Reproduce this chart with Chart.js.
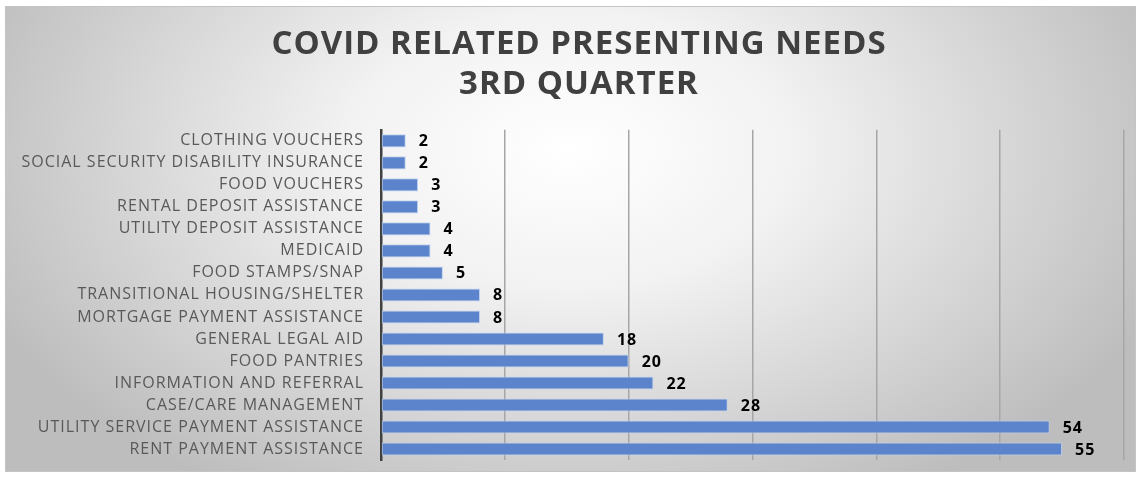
<!DOCTYPE html>
<html lang="en">
<head>
    <meta charset="UTF-8">
    <title>COVID Related Presenting Needs - 3rd Quarter</title>
    <style>
        html, body {
            margin: 0;
            padding: 0;
            background-color: #fff;
        }
        .chart-box {
            position: relative;
            width: 1141px;
            height: 478px;
        }
    </style>
    <script src="https://cdn.jsdelivr.net/npm/chart.js"></script>
</head>
<body>
    <div class="chart-box">
        <canvas id="needsChart" width="1141" height="478"></canvas>
    </div>

    <script>
        // data
        const categories = [
            'CLOTHING VOUCHERS',
            'SOCIAL SECURITY DISABILITY INSURANCE',
            'FOOD VOUCHERS',
            'RENTAL DEPOSIT ASSISTANCE',
            'UTILITY DEPOSIT ASSISTANCE',
            'MEDICAID',
            'FOOD STAMPS/SNAP',
            'TRANSITIONAL HOUSING/SHELTER',
            'MORTGAGE PAYMENT ASSISTANCE',
            'GENERAL LEGAL AID',
            'FOOD PANTRIES',
            'INFORMATION AND REFERRAL',
            'CASE/CARE MANAGEMENT',
            'UTILITY SERVICE PAYMENT ASSISTANCE',
            'RENT PAYMENT ASSISTANCE'
        ];
        const counts = [2, 2, 3, 3, 4, 4, 5, 8, 8, 18, 20, 22, 28, 54, 55];
        const titleLines = ['COVID RELATED PRESENTING NEEDS', '3RD QUARTER'];

        // background + frame
        const backgroundPlugin = {
            id: 'panelBackground',
            beforeDraw(chart) {
                const ctx = chart.ctx;
                const x = 5, y = 6, w = 1131, h = 466;
                ctx.save();
                ctx.fillStyle = '#ffffff';
                ctx.fillRect(0, 0, chart.width, chart.height);
                ctx.beginPath();
                ctx.rect(x, y, w, h);
                ctx.clip();
                ctx.translate(570, 150);
                ctx.scale(1, 0.62);
                const g = ctx.createRadialGradient(0, 0, 0, 0, 0, 640);
                g.addColorStop(0, '#ffffff');
                g.addColorStop(0.35, '#f2f2f2');
                g.addColorStop(1, '#bdbdbd');
                ctx.fillStyle = g;
                ctx.fillRect(-700, -700, 1400, 1400);
                ctx.restore();
                ctx.save();
                ctx.strokeStyle = '#c4c4c4';
                ctx.lineWidth = 1;
                ctx.strokeRect(x + 0.5, y + 0.5, w - 1, h - 1);
                ctx.restore();
                // the original text is set a little wider
                ctx.letterSpacing = '1px';
            }
        };

        // value labels right of each bar
        const valueLabels = {
            id: 'valueLabels',
            afterDatasetsDraw(chart) {
                const ctx = chart.ctx;
                const meta = chart.getDatasetMeta(0);
                ctx.save();
                ctx.letterSpacing = '1px';
                ctx.font = 'bold 16px "Open Sans"';
                ctx.fillStyle = '#000';
                ctx.textBaseline = 'middle';
                ctx.textAlign = 'left';
                meta.data.forEach((bar, i) => {
                    ctx.fillText(counts[i], bar.x + 13, bar.y + 1);
                });
                ctx.restore();
            }
        };

        new Chart(document.getElementById('needsChart'), {
            type: 'bar',
            data: {
                labels: categories,
                datasets: [{
                    data: counts,
                    backgroundColor: '#5b84cc',
                    borderColor: 'rgba(190,208,238,0.9)',
                    borderWidth: 1,
                    borderSkipped: false,
                    barPercentage: 0.66,
                    categoryPercentage: 0.9
                }]
            },
            options: {
                indexAxis: 'y',
                responsive: false,
                animation: false,
                layout: {
                    // left padding only to centre the title like the original
                    padding: { left: 34, right: 17, top: 0, bottom: 18 }
                },
                plugins: {
                    legend: { display: false },
                    tooltip: { enabled: false },
                    title: {
                        display: true,
                        text: titleLines,
                        color: '#404040',
                        font: { family: '"Open Sans"', size: 33, weight: 'bold', lineHeight: 1.21 },
                        padding: { top: 25, bottom: 25 }
                    }
                },
                scales: {
                    x: {
                        min: 0,
                        max: 60,
                        ticks: { display: false, stepSize: 10 },
                        grid: {
                            color: (c) => c.index === 0 ? 'rgba(0,0,0,0)' : '#a6a6a6',
                            lineWidth: 1.5,
                            drawTicks: false
                        },
                        border: { display: false },
                        afterFit: (s) => { s.height = 0; }
                    },
                    y: {
                        ticks: {
                            color: '#595959',
                            font: { family: '"Open Sans"', size: 16 },
                            padding: 17,
                            autoSkip: false
                        },
                        grid: { display: false, drawTicks: false },
                        border: { display: true, color: '#404040', width: 2.5 },
                        afterFit: (s) => {
                            s.width = 381 - 34;
                            s.paddingTop = 0;
                            s.paddingBottom = 0;
                            // long label runs into the left padding, don't clip it
                            s._computeLabelArea = () => null;
                        }
                    }
                }
            },
            plugins: [backgroundPlugin, valueLabels]
        });
    </script>
</body>
</html>
